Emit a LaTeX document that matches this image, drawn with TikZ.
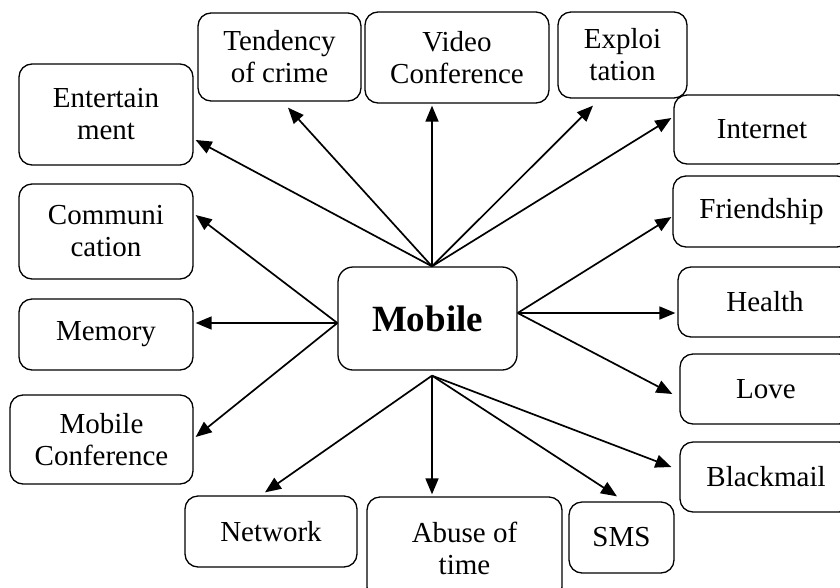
\documentclass[tikz,border=0pt]{standalone}
\usepackage{fontspec}
\setmainfont{Liberation Serif}
\usetikzlibrary{arrows.meta,calc}

\tikzset{
box/.style={draw, line width=1.3pt, rounded corners=13pt, align=center, inner sep=0pt, font=\fontsize{29}{32}\selectfont},
arr/.style={-{Triangle[length=16pt,width=13pt]}, line width=1.7pt}
}

\begin{document}
\begin{tikzpicture}[x=1pt,y=-1pt]
\useasboundingbox (0,0) rectangle (840,587);
\clip (0,0) rectangle (840,587);
% centre box
\node[box, rounded corners=15pt, minimum width=179, minimum height=103, font=\fontsize{37}{40}\selectfont\bfseries] (mob) at (427.5,318.5) {Mobile};
\coordinate (mtop) at ([shift={(4.5,0)}]mob.north);
\coordinate (mleft) at ([shift={(0,4.5)}]mob.west);
\coordinate (mright) at ([shift={(0,-5.5)}]mob.east);
\coordinate (mbot) at ([shift={(4.5,5)}]mob.south);
% outer boxes: name/left/top/right/bottom/text
\foreach \nm/\lx/\ty/\rx/\by/\txt in {
ent/19/64/193/165/{Entertain\\ment},
crime/198/13/361/101/{Tendency\\of crime},
video/365/12/549/103/{Video\\Conference},
expl/558/12/687/98/{Exploi\\tation},
inet/674/95/850/164/{Internet},
friend/673/176/850/247/{Friendship},
health/678/267/852/337/{Health},
love/680/354/852/424/{Love},
black/680/442/852/512/{Blackmail},
comm/19/184/193/279/{Communi\\cation},
mem/19/299/193/370/{Memory},
mconf/10/395/193/484/{Mobile\\Conference},
net/185/496/357/567/{Network},
abuse/367/497/562/600/{Abuse of\\time},
sms/569/502/674/573/{SMS}}
  \node[box, minimum width=\rx-\lx, minimum height=\by-\ty] (\nm) at ({(\lx+\rx)/2},{(\ty+\by)/2}) {\txt};
% arrows: source/target/offset of tip
\foreach \src/\dst/\dx/\dy in {
mtop/crime.south/8.5/6, mtop/ent.east/2/25.5, mtop/video.south/-25/2,
mtop/expl.south/-29.5/7, mtop/inet.west/-2/-11.5,
mright/friend.west/-1/5.5, mright/health.west/-2/11, mright/love.west/-7/5,
mleft/comm.east/2/-16.5, mleft/mem.east/2/-11.5, mleft/mconf.east/2/-2.5,
mbot/net.north/-6/-3, mbot/abuse.north/-32.5/-2, mbot/sms.north/-4.5/-5,
mbot/black.west/-8/-10}
  \draw[arr] (\src) -- ([shift={(\dx,\dy)}]\dst);
\end{tikzpicture}
\end{document}
